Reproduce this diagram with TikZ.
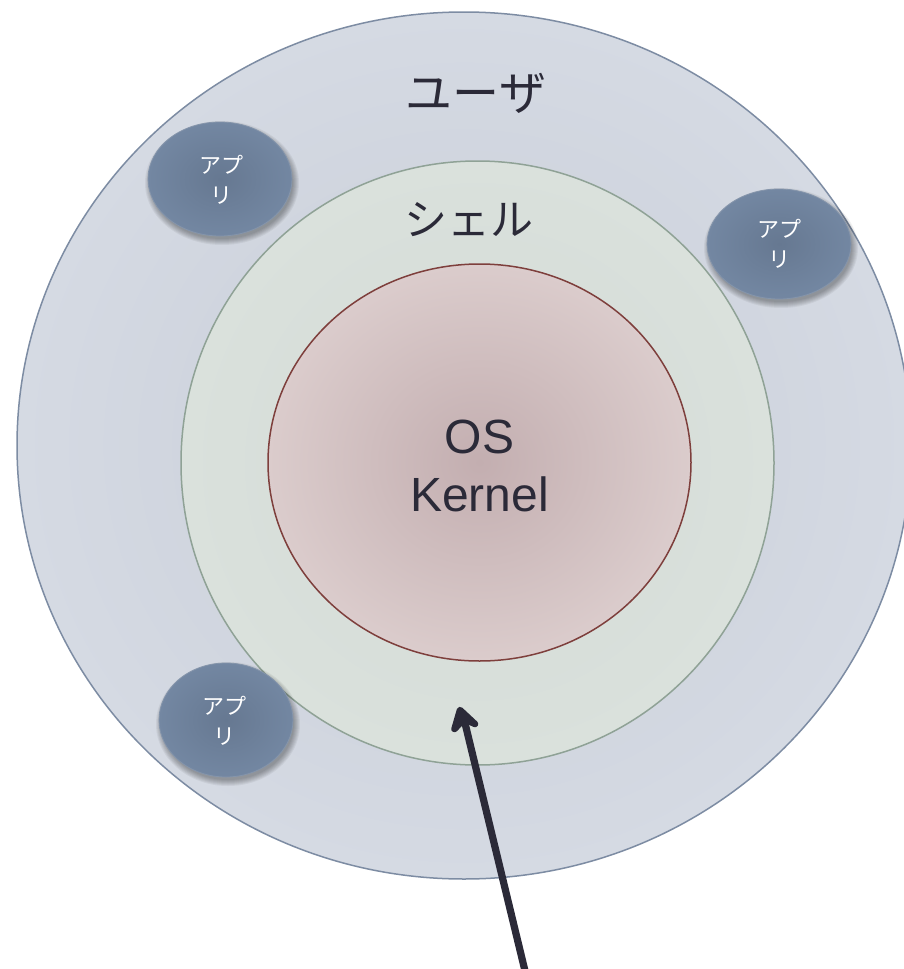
\documentclass[tikz,border=0pt]{standalone}
\usepackage{fontspec}
\setmainfont{Liberation Sans}
\newfontfamily\jpfont{Noto Sans CJK JP}
\usetikzlibrary{shapes.geometric,arrows.meta}
\definecolor{inkdark}{HTML}{2B2A38}
\definecolor{userin}{HTML}{C8CDD8}
\definecolor{userout}{HTML}{D5DAE3}
\definecolor{userline}{HTML}{7D8CA3}
\definecolor{shellin}{HTML}{D3DAD6}
\definecolor{shellout}{HTML}{DAE1DC}
\definecolor{shellline}{HTML}{8FA296}
\definecolor{kernin}{HTML}{C3AEB0}
\definecolor{kernout}{HTML}{DBCCCC}
\definecolor{kernline}{HTML}{7E3F3C}
\definecolor{appin}{HTML}{667891}
\definecolor{appout}{HTML}{7387A2}
\definecolor{appline}{HTML}{8595AB}
\tikzset{
  layer/.style={ellipse,inner sep=0pt,line width=1.5pt,align=center,text=inkdark},
  user/.style={layer,draw=userline,inner color=userin,outer color=userout,minimum width=894pt,minimum height=867pt},
  shell/.style={layer,draw=shellline,inner color=shellin,outer color=shellout,minimum width=593pt,minimum height=604pt},
  kernel/.style={layer,draw=kernline,inner color=kernin,outer color=kernout,minimum width=423pt,minimum height=397pt},
  kernellabel/.style={inner sep=0pt,align=center,text=inkdark,font=\fontsize{48}{58}\selectfont},
  app/.style={ellipse,inner sep=0pt,draw=appline,line width=0.8pt,inner color=appin,outer color=appout},
  applabel/.style={inner sep=0pt,text=white,align=center,font=\jpfont\fontsize{22}{30}\selectfont},
  heading/.style={inner sep=0pt,text=inkdark,font=\jpfont\fontsize{43}{50}\selectfont},
  bigheading/.style={inner sep=0pt,text=inkdark,font=\jpfont\fontsize{47}{50}\selectfont},
  pointer/.style={draw=inkdark,line width=7.2pt},
  pointerhead/.style={draw=inkdark,fill=inkdark,line width=6.5pt,line join=round},
  shade layer/.style={ellipse,inner sep=0pt,fill=black,fill opacity=0.05}
}
\newcommand{\appshadow}[4]{%
  \foreach \grow in {-2,0,2,4,6,8,10}{
    \node[shade layer,minimum width=#3pt+\grow pt,minimum height=#4pt+\grow pt] at (#1+2,#2+4) {};
  }%
}
\begin{document}
\begin{tikzpicture}[x=1pt,y=-1pt]
\useasboundingbox (0,0) rectangle (903,969);
\fill[white] (0,0) rectangle (903,969);
\node[user] (outer) at (464,445.5) {};
\node[shell] (middle) at (477.5,463) {};
\node[kernel] (core) at (479.5,462.5) {};
\node[kernellabel] (corelabel) at (479.5,466) {OS\\Kernel};
\node[bigheading] (userlabel) at (476,93) {ユーザ};
\node[heading] (shelllabel) at (469,220) {シェル};
\appshadow{220}{179}{144}{114}
\node[app,minimum width=144pt,minimum height=114pt] (app1) at (220,179) {};
\node[applabel] (app1label) at (221,180) {アプ\\リ};
\appshadow{779}{244}{144}{110}
\node[app,minimum width=144pt,minimum height=110pt] (app2) at (779,244) {};
\node[applabel] (app2label) at (779,244) {アプ\\リ};
\appshadow{226}{720}{134}{114}
\node[app,minimum width=134pt,minimum height=114pt] (app3) at (226,720) {};
\node[applabel] (app3label) at (224,721) {アプ\\リ};
\coordinate (tail) at (526,975);
\coordinate (tip) at (460,710);
\coordinate (wingl) at (454.5,729);
\coordinate (notch) at (464,719);
\coordinate (wingr) at (475,724);
\draw[pointer] (tail) -- (notch);
\draw[pointerhead] (tip) -- (wingl) -- (notch) -- (wingr) -- cycle;
\end{tikzpicture}
\end{document}
